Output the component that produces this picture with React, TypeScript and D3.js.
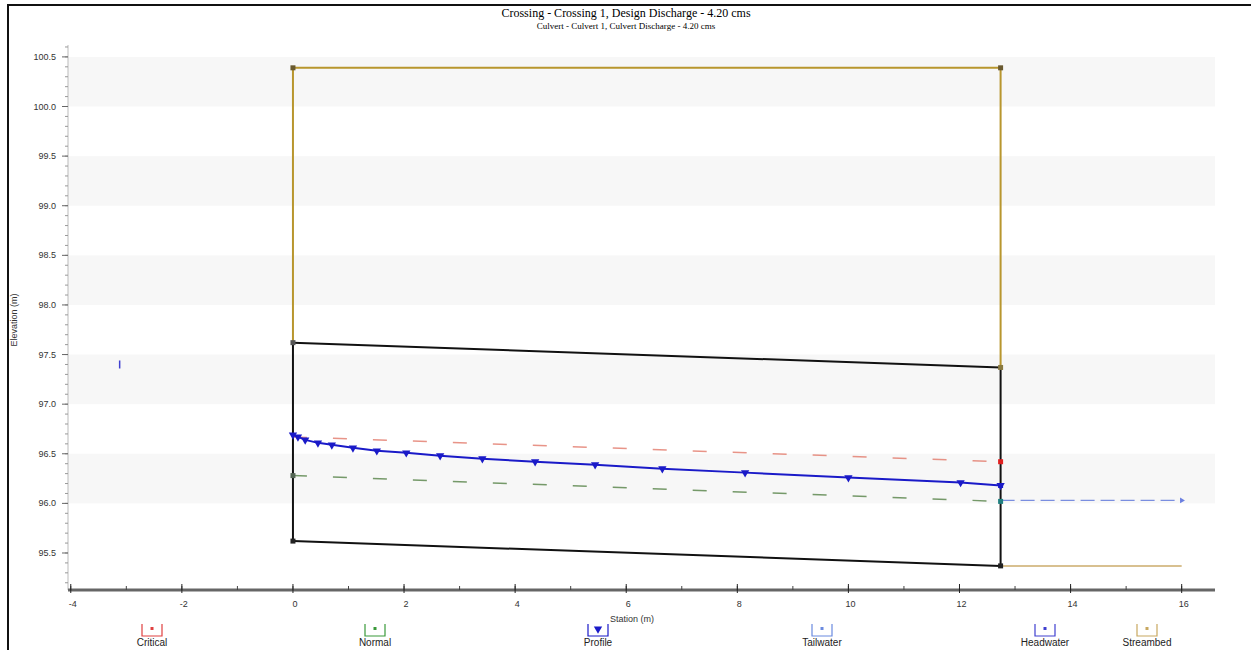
import { useEffect, useRef } from 'react';
import * as d3 from 'd3';

// culvert profile values (station m, elevation m)
const profileStation = [0, 0.09, 0.22, 0.45, 0.7, 1.08, 1.51, 2.04, 2.65, 3.41, 4.36, 5.44, 6.65, 8.14, 10.0, 12.02, 12.74];
const profileElev = [96.69, 96.67, 96.64, 96.61, 96.59, 96.56, 96.53, 96.51, 96.48, 96.45, 96.42, 96.39, 96.35, 96.31, 96.26, 96.21, 96.18];

const culvertStation = [0, 12.74];
const culvertInvert = [95.62, 95.37];
const culvertCrown = [97.62, 97.37];
const roadCrest = [100.39, 100.39];

const criticalElev = [96.67, 96.42];
const normalElev = [96.28, 96.02];

const tailStation = [12.74, 16];
const tailwaterElev = [96.03, 96.03];
const streambedElev = [95.37, 95.37];

const headwaterPoint = { station: -3.12, elev: 97.4 };

const xTicks = [-4, -2, 0, 2, 4, 6, 8, 10, 12, 14, 16];
const yTicks = [95.5, 96.0, 96.5, 97.0, 97.5, 98.0, 98.5, 99.0, 99.5, 100.0, 100.5];

const legendNames = ['Critical', 'Normal', 'Profile', 'Tailwater', 'Headwater', 'Streambed'];
const legendColors = ['#e04040', '#3a9a3a', '#1a1ac8', '#6a8ae0', '#4040d0', '#c8a860'];

const App = () => {
  const svgRef = useRef<SVGSVGElement>(null);

  useEffect(() => {
    if (!svgRef.current) return;
    const svg = d3.select(svgRef.current);
    svg.selectAll('*').remove();

    const left = 68, right = 1215, top = 45, bottom = 590;
    const x = d3.scaleLinear().domain([-4.05, 16.6]).range([left, right]);
    const y = d3.scaleLinear().domain([95.127, 100.62]).range([bottom, top]);

    // outer frame
    svg.append('rect')
      .attr('x', 8).attr('y', 5).attr('width', 1300).attr('height', 700)
      .attr('fill', 'white').attr('stroke', '#111').attr('stroke-width', 2);

    // alternating bands
    const g = svg.append('g');
    for (let i = 1; i < yTicks.length; i += 2) {
      const v = yTicks[i];
      g.append('rect')
        .attr('x', left).attr('width', right - left)
        .attr('y', y(v + 0.5)).attr('height', y(v) - y(v + 0.5))
        .attr('fill', '#f7f7f7');
    }

    // title
    svg.append('text')
      .attr('x', 626).attr('y', 17).attr('text-anchor', 'middle')
      .style('font-family', '"Liberation Serif", serif').style('font-size', '12px')
      .text('Crossing - Crossing 1, Design Discharge - 4.20 cms');
    svg.append('text')
      .attr('x', 626).attr('y', 29).attr('text-anchor', 'middle')
      .style('font-family', '"Liberation Serif", serif').style('font-size', '9px')
      .text('Culvert - Culvert 1, Culvert Discharge - 4.20 cms');

    // y axis
    g.append('line')
      .attr('x1', left).attr('x2', left).attr('y1', top).attr('y2', bottom)
      .attr('stroke', '#bbb');
    d3.range(95.2, 100.61, 0.1).forEach(v => {
      g.append('line')
        .attr('x1', left - 3).attr('x2', left).attr('y1', y(v)).attr('y2', y(v))
        .attr('stroke', '#999');
    });
    yTicks.forEach(v => {
      g.append('line')
        .attr('x1', left - 6).attr('x2', left).attr('y1', y(v)).attr('y2', y(v))
        .attr('stroke', '#666');
      g.append('text')
        .attr('x', left - 12).attr('y', y(v) + 3).attr('text-anchor', 'end')
        .style('font-family', '"Liberation Sans", sans-serif').style('font-size', '9px')
        .attr('fill', '#333')
        .text(v.toFixed(1));
    });
    svg.append('text')
      .attr('transform', `translate(17,${320}) rotate(-90)`)
      .attr('text-anchor', 'middle')
      .style('font-family', '"Liberation Sans", sans-serif').style('font-size', '9px')
      .attr('fill', '#333')
      .text('Elevation (m)');

    // x axis
    g.append('line')
      .attr('x1', left).attr('x2', right).attr('y1', bottom).attr('y2', bottom)
      .attr('stroke', '#666').attr('stroke-width', 3);
    d3.range(-4, 16.6, 1).forEach(v => {
      g.append('line')
        .attr('x1', x(v)).attr('x2', x(v)).attr('y1', bottom - 4).attr('y2', bottom)
        .attr('stroke', '#444');
    });
    xTicks.forEach(v => {
      g.append('line')
        .attr('x1', x(v)).attr('x2', x(v)).attr('y1', bottom - 6).attr('y2', bottom + 3)
        .attr('stroke', '#222');
      g.append('text')
        .attr('x', x(v) + 2).attr('y', bottom + 17).attr('text-anchor', 'middle')
        .style('font-family', '"Liberation Sans", sans-serif').style('font-size', '9px')
        .attr('fill', '#333')
        .text(v);
    });
    svg.append('text')
      .attr('x', 632).attr('y', 622).attr('text-anchor', 'middle')
      .style('font-family', '"Liberation Sans", sans-serif').style('font-size', '9px')
      .attr('fill', '#333')
      .text('Station (m)');

    const line = d3.line<[number, number]>().x(d => x(d[0])).y(d => y(d[1]));
    const pts = (s: number[], e: number[]) => s.map((v, i) => [v, e[i]] as [number, number]);

    // roadway embankment
    g.append('path')
      .attr('d', line([
        [culvertStation[0], culvertCrown[0]],
        [culvertStation[0], roadCrest[0]],
        [culvertStation[1], roadCrest[1]],
        [culvertStation[1], culvertCrown[1]],
      ]))
      .attr('fill', 'none').attr('stroke', '#b8962e').attr('stroke-width', 2);

    // downstream streambed
    g.append('path').attr('d', line(pts(tailStation, streambedElev)))
      .attr('fill', 'none').attr('stroke', '#d8c090').attr('stroke-width', 2);

    // tailwater
    g.append('path').attr('d', line(pts(tailStation, tailwaterElev)))
      .attr('fill', 'none').attr('stroke', '#7a8ee0').attr('stroke-width', 1.3)
      .attr('stroke-dasharray', '14,6');

    // critical & normal depth
    g.append('path').attr('d', line(pts(culvertStation, criticalElev)))
      .attr('fill', 'none').attr('stroke', '#e07060').attr('stroke-width', 1.5)
      .attr('stroke-dasharray', '14,26').attr('opacity', 0.75);
    g.append('path').attr('d', line(pts(culvertStation, normalElev)))
      .attr('fill', 'none').attr('stroke', '#4a7a3a').attr('stroke-width', 1.5)
      .attr('stroke-dasharray', '14,26').attr('opacity', 0.75);

    // culvert barrel
    g.append('path').attr('d', line(pts(culvertStation, culvertCrown)))
      .attr('fill', 'none').attr('stroke', '#111').attr('stroke-width', 2);
    g.append('path').attr('d', line(pts(culvertStation, culvertInvert)))
      .attr('fill', 'none').attr('stroke', '#111').attr('stroke-width', 2);
    culvertStation.forEach((s, i) => {
      g.append('line')
        .attr('x1', x(s)).attr('x2', x(s))
        .attr('y1', y(culvertInvert[i])).attr('y2', y(culvertCrown[i]))
        .attr('stroke', '#111').attr('stroke-width', 2);
    });

    // profile
    g.append('path').attr('d', line(pts(profileStation, profileElev)))
      .attr('fill', 'none').attr('stroke', '#1a1ac8').attr('stroke-width', 2);
    const tri = d3.symbol().type(d3.symbolTriangle).size(30);
    profileStation.forEach((s, i) => {
      g.append('path').attr('d', tri())
        .attr('transform', `translate(${x(s)},${y(profileElev[i])}) rotate(180)`)
        .attr('fill', '#1a1ac8');
    });

    // end markers
    const dot = (s: number, e: number, c: string) =>
      g.append('rect').attr('x', x(s) - 2.5).attr('y', y(e) - 2.5)
        .attr('width', 5).attr('height', 5).attr('fill', c);
    dot(0, roadCrest[0], '#6a5a30');
    dot(12.74, roadCrest[1], '#6a5a30');
    dot(0, culvertCrown[0], '#555');
    dot(12.74, culvertCrown[1], '#8a7a40');
    dot(0, culvertInvert[0], '#222');
    dot(12.74, culvertInvert[1], '#222');
    dot(0, normalElev[0], '#556655');
    dot(12.74, criticalElev[1], '#e02020');
    dot(12.74, normalElev[1], '#208080');
    dot(12.74, profileElev[profileElev.length - 1], '#1a1ac8');
    g.append('path').attr('d', d3.symbol().type(d3.symbolTriangle).size(14)())
      .attr('transform', `translate(${x(16)},${y(tailwaterElev[1])}) rotate(90)`)
      .attr('fill', '#6a7ee0');

    // headwater mark
    g.append('line')
      .attr('x1', x(headwaterPoint.station)).attr('x2', x(headwaterPoint.station))
      .attr('y1', y(headwaterPoint.elev) - 4).attr('y2', y(headwaterPoint.elev) + 4)
      .attr('stroke', '#4040d0').attr('stroke-width', 1.5);

    // legend
    const legendX = [152, 375, 598, 822, 1045, 1147];
    legendNames.forEach((name, i) => {
      const cx = legendX[i];
      const c = legendColors[i];
      const lg = svg.append('g').attr('transform', `translate(${cx},0)`);
      lg.append('path')
        .attr('d', 'M-10,624 L-10,636 L10,636 L10,624')
        .attr('fill', 'none').attr('stroke', c).attr('stroke-width', 1.2);
      if (name === 'Profile') {
        lg.append('path').attr('d', tri()).attr('transform', 'translate(0,629) rotate(180)').attr('fill', c);
      } else {
        lg.append('rect').attr('x', -1.5).attr('y', 627).attr('width', 3).attr('height', 3).attr('fill', c);
      }
      lg.append('text')
        .attr('x', 0).attr('y', 646).attr('text-anchor', 'middle')
        .style('font-family', '"Liberation Sans", sans-serif').style('font-size', '10px')
        .attr('fill', '#222')
        .text(name);
    });
  }, []);

  return (
    <svg ref={svgRef} width={1251} height={650}
      style={{ position: 'absolute', left: 0, top: 0, background: 'white' }} />
  );
};

export default App;
